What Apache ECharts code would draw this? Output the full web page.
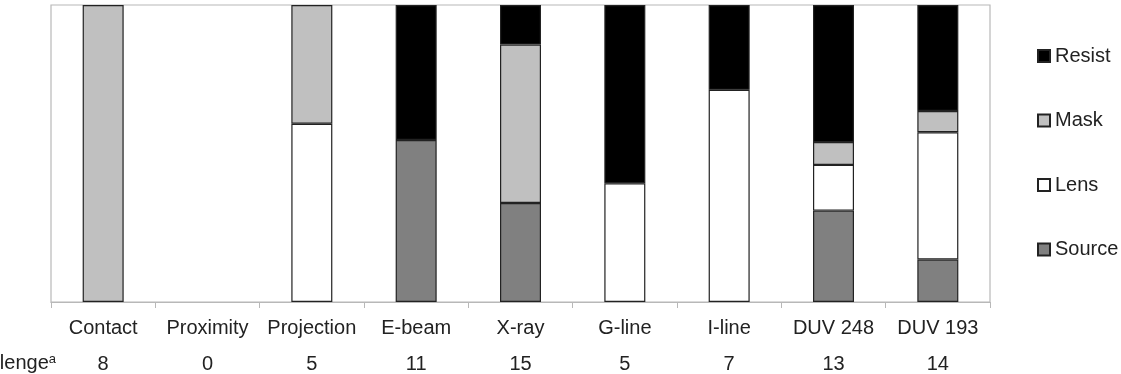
<!DOCTYPE html>
<html>
<head>
<meta charset="utf-8">
<script src="https://cdn.jsdelivr.net/npm/echarts@6/dist/echarts.min.js"></script>
<style>
  html, body { margin: 0; padding: 0; background: #fff; }
  #chart { width: 1121px; height: 374px; }
</style>
</head>
<body>
<div id="chart"></div>
<script>
// categories and counts (stacked, shown as share of total)
var categories = ['Contact', 'Proximity', 'Projection', 'E-beam', 'X-ray', 'G-line', 'I-line', 'DUV 248', 'DUV 193'];
var sourceCounts = [0, 0, 0, 6, 5, 0, 0, 4, 2];
var lensCounts   = [0, 0, 3, 0, 0, 2, 5, 2, 6];
var maskCounts   = [8, 0, 2, 0, 8, 0, 0, 1, 1];
var resistCounts = [0, 0, 0, 5, 2, 3, 2, 6, 5];
var challengeTotals = ['8', '0', '5', '11', '15', '5', '7', '13', '14'];

var fontFamily = '"Liberation Sans", Arial, sans-serif';

function toShare(counts) {
    return counts.map(function(v, i) {
        var total = sourceCounts[i] + lensCounts[i] + maskCounts[i] + resistCounts[i];
        // empty segments are left out so no border line is drawn
        return (total && v) ? v / total * 100 : null;
    });
}

function makeSeries(name, counts, color) {
    return {
        name: name,
        type: 'bar',
        stack: 'all',
        barWidth: 41,
        data: toShare(counts),
        itemStyle: {
            color: color,
            borderColor: '#222',
            borderWidth: 1.2
        }
    };
}

var myChart = echarts.init(document.getElementById('chart'));
myChart.setOption({
    animation: false,
    textStyle: { fontFamily: fontFamily },
    grid: {
        left: 51,
        right: 131,
        top: 5,
        bottom: 72,
        show: true,
        borderColor: '#b8b8b8',
        borderWidth: 1.2
    },
    legend: {
        orient: 'vertical',
        left: 1032,
        top: 41,
        itemWidth: 12,
        itemHeight: 12,
        itemGap: 44.5,
        icon: 'rect',
        data: ['Resist', 'Mask', 'Lens', 'Source'],
        textStyle: { fontSize: 20, color: '#222', fontFamily: fontFamily }
    },
    xAxis: [{
        type: 'category',
        data: categories,
        axisLine: { lineStyle: { color: '#b8b8b8', width: 1.2 } },
        axisTick: { show: true, length: 6, lineStyle: { color: '#b8b8b8' } },
        axisLabel: { interval: 0, fontSize: 20, color: '#222', margin: 16, fontFamily: fontFamily }
    }, {
        type: 'category',
        position: 'bottom',
        offset: 36,
        data: challengeTotals,
        axisLine: { show: false },
        axisTick: { show: false },
        axisLabel: { interval: 0, fontSize: 20, color: '#222', margin: 16, fontFamily: fontFamily }
    }],
    yAxis: {
        type: 'value',
        min: 0,
        max: 100,
        show: false
    },
    graphic: [{
        type: 'text',
        right: 1121 - 56,
        top: 353,
        style: {
            text: 'Challenge{sup|a}',
            fontSize: 20,
            fill: '#222',
            fontFamily: fontFamily,
            rich: {
                sup: { fontSize: 13, verticalAlign: 'top', padding: [0, 0, 8, 0], fill: '#222' }
            }
        }
    }],
    series: [
        makeSeries('Source', sourceCounts, '#808080'),
        makeSeries('Lens', lensCounts, '#ffffff'),
        makeSeries('Mask', maskCounts, '#c0c0c0'),
        makeSeries('Resist', resistCounts, '#000000')
    ]
});
</script>
</body>
</html>
